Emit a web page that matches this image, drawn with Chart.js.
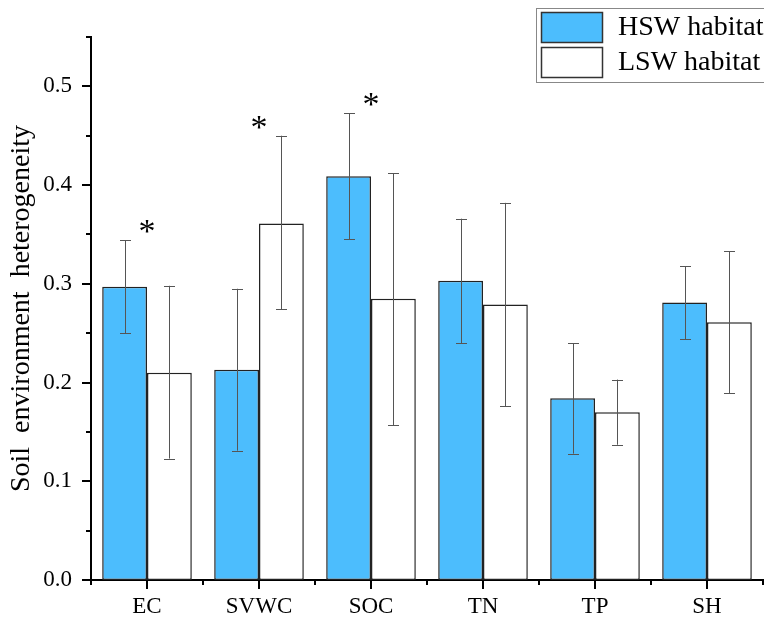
<!DOCTYPE html>
<html>
<head>
<meta charset="utf-8">
<script src="https://cdn.jsdelivr.net/npm/chart.js@4"></script>
<style>
    body { margin: 0; background: #fff; }
    canvas { display: block; }
</style>
</head>
<body>
<canvas id="chart" width="764" height="618"></canvas>
<script>
const categories = ['EC', 'SVWC', 'SOC', 'TN', 'TP', 'SH'];
const seriesNames = ['HSW habitat', 'LSW habitat'];

const hswMeans = [0.297, 0.213, 0.409, 0.303, 0.184, 0.281];
const hswLower = [0.250, 0.131, 0.345, 0.240, 0.128, 0.244];
const hswUpper = [0.344, 0.295, 0.473, 0.366, 0.240, 0.318];

const lswMeans = [0.210, 0.361, 0.285, 0.279, 0.170, 0.261];
const lswLower = [0.123, 0.274, 0.157, 0.176, 0.137, 0.189];
const lswUpper = [0.298, 0.450, 0.412, 0.382, 0.203, 0.333];

// '*' marks a significant difference between habitats
const significant = [true, true, true, false, false, false];

const yMin = 0;
const yMax = 0.55;
const yStep = 0.05;

const FONT = "'Liberation Serif', 'Times New Roman', serif";
const BLUE = '#4cbdfd';

const errorBars = [
    { lower: hswLower, upper: hswUpper },
    { lower: lswLower, upper: lswUpper }
];

// error bars + significance stars
const errorBarPlugin = {
    id: 'errorBars',
    afterDatasetsDraw(chart) {
        const ctx = chart.ctx;
        const y = chart.scales.y;
        ctx.save();
        ctx.strokeStyle = '#555';
        ctx.lineWidth = 1;
        errorBars.forEach((eb, di) => {
            const meta = chart.getDatasetMeta(di);
            meta.data.forEach((bar, i) => {
                const x = Math.round(bar.x) + 0.5;
                const top = y.getPixelForValue(eb.upper[i]);
                const bottom = y.getPixelForValue(eb.lower[i]);
                ctx.beginPath();
                ctx.moveTo(x, top);
                ctx.lineTo(x, bottom);
                ctx.moveTo(x - 5.5, Math.round(top) + 0.5);
                ctx.lineTo(x + 5.5, Math.round(top) + 0.5);
                ctx.moveTo(x - 5.5, Math.round(bottom) + 0.5);
                ctx.lineTo(x + 5.5, Math.round(bottom) + 0.5);
                ctx.stroke();
            });
        });

        ctx.fillStyle = '#000';
        ctx.font = '34px ' + FONT;
        ctx.textAlign = 'center';
        ctx.textBaseline = 'middle';
        significant.forEach((sig, i) => {
            if (!sig) return;
            const top = Math.max(hswUpper[i], lswUpper[i]);
            const px = chart.scales.x.getPixelForValue(i);
            ctx.fillText('*', px, y.getPixelForValue(top) - 7);
        });
        ctx.restore();
    }
};

// axis tick marks (major/minor) drawn outward
const tickMarkPlugin = {
    id: 'tickMarks',
    afterDraw(chart) {
        const ctx = chart.ctx;
        const xs = chart.scales.x;
        const ys = chart.scales.y;
        const area = chart.chartArea;
        ctx.save();
        ctx.strokeStyle = '#000';
        ctx.lineWidth = 2;
        ctx.beginPath();
        ys.ticks.forEach((t, i) => {
            const py = Math.round(ys.getPixelForValue(t.value));
            const len = i % 2 === 0 ? 9 : 5;
            ctx.moveTo(area.left, py);
            ctx.lineTo(area.left - len, py);
        });
        const half = (xs.getPixelForValue(1) - xs.getPixelForValue(0)) / 2;
        categories.forEach((c, i) => {
            const px = Math.round(xs.getPixelForValue(i));
            ctx.moveTo(px, area.bottom);
            ctx.lineTo(px, area.bottom + 9);
            const bx = Math.round(px + half);
            ctx.moveTo(bx, area.bottom);
            ctx.lineTo(bx, area.bottom + 5);
        });
        ctx.moveTo(area.left, area.bottom);
        ctx.lineTo(area.left, area.bottom + 5);
        ctx.stroke();
        ctx.restore();
    }
};

// boxed legend in the top right corner
const boxLegendPlugin = {
    id: 'boxLegend',
    afterDraw(chart) {
        const ctx = chart.ctx;
        ctx.save();
        ctx.fillStyle = '#fff';
        ctx.fillRect(536, 8, 240, 74);
        ctx.strokeStyle = '#888';
        ctx.lineWidth = 1;
        ctx.strokeRect(536.5, 8.5, 240, 74);
        chart.data.datasets.forEach((ds, i) => {
            const top = 12 + i * 35;
            ctx.fillStyle = ds.backgroundColor;
            ctx.fillRect(541, top, 62, 31);
            ctx.strokeStyle = '#333';
            ctx.lineWidth = 1.5;
            ctx.strokeRect(541.5, top + 0.5, 61, 30);
            ctx.fillStyle = '#000';
            ctx.font = '28px ' + FONT;
            ctx.textAlign = 'left';
            ctx.textBaseline = 'middle';
            ctx.fillText(ds.label, 618, top + 16);
        });
        ctx.restore();
    }
};

new Chart(document.getElementById('chart'), {
    type: 'bar',
    data: {
        labels: categories,
        datasets: [
            {
                label: seriesNames[0],
                data: hswMeans,
                backgroundColor: BLUE,
                borderColor: '#222',
                borderWidth: 1.5,
                borderSkipped: false
            },
            {
                label: seriesNames[1],
                data: lswMeans,
                backgroundColor: '#ffffff',
                borderColor: '#222',
                borderWidth: 1.5,
                borderSkipped: false
            }
        ]
    },
    options: {
        responsive: false,
        animation: false,
        categoryPercentage: 0.8,
        barPercentage: 1.0,
        layout: {
            padding: { top: 37, right: 1, left: 0, bottom: 0 }
        },
        plugins: {
            legend: { display: false },
            tooltip: { enabled: false }
        },
        scales: {
            x: {
                grid: { display: false, drawTicks: false },
                border: { display: true, color: '#000', width: 2 },
                ticks: {
                    color: '#000',
                    padding: 13,
                    maxRotation: 0,
                    font: { family: FONT, size: 23 }
                },
                afterFit(scale) { scale.height = 38; }
            },
            y: {
                min: yMin,
                max: yMax,
                grid: { display: false, drawTicks: false },
                border: { display: true, color: '#000', width: 2 },
                ticks: {
                    stepSize: yStep,
                    color: '#000',
                    padding: 19,
                    font: { family: FONT, size: 23 },
                    callback: (v, i) => (i % 2 === 0 ? v.toFixed(1) : '')
                },
                title: {
                    display: true,
                    text: 'Soil  environment  heterogeneity',
                    color: '#000',
                    padding: { top: 5, bottom: 0 },
                    font: { family: FONT, size: 28 }
                },
                afterFit(scale) { scale.width = 91; }
            }
        }
    },
    plugins: [errorBarPlugin, tickMarkPlugin, boxLegendPlugin]
});
</script>
</body>
</html>
